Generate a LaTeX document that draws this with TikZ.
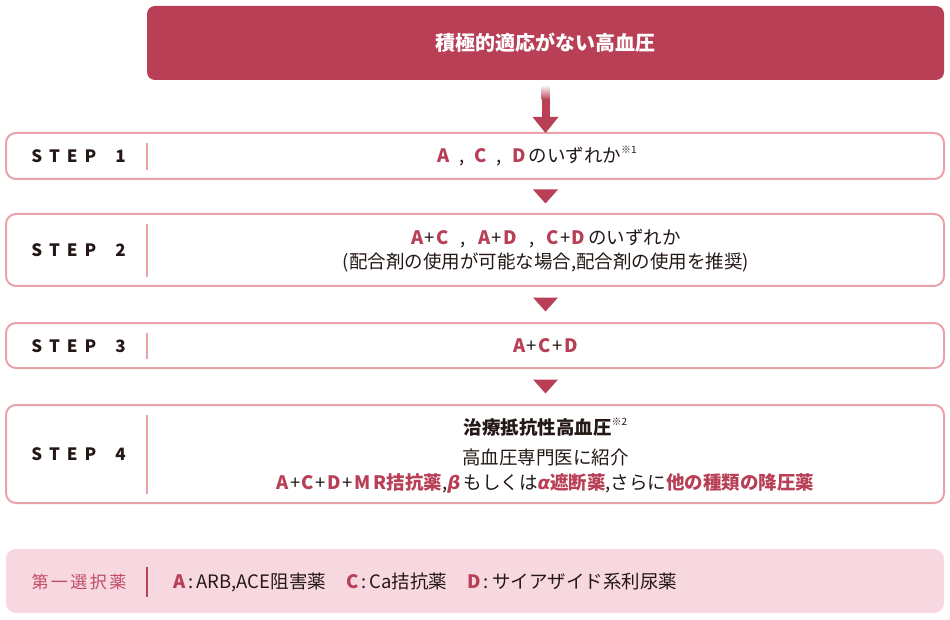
\documentclass[tikz,border=0pt]{standalone}
\usepackage{fontspec}
\setmainfont{Noto Sans CJK JP}
\newfontfamily\grk{DejaVu Sans}
\usetikzlibrary{calc}
\definecolor{dred}{HTML}{B83F56}
\definecolor{bpink}{HTML}{E9A2A9}
\definecolor{lpink}{HTML}{F8D8E0}
\definecolor{legred}{HTML}{C04C66}
\definecolor{tblack}{HTML}{231815}
\newcommand\rd[1]{{\color{dred}\bfseries #1}}
\newcommand\supmark[1]{\raisebox{0.5em}{\fontsize{10}{10}\selectfont #1}}
\newcommand\steplabel[1]{S\hspace{7pt}T\hspace{7pt}E\hspace{7pt}P\hspace{19pt}#1}
\newcommand\pl{\hspace{1.5pt}+\hspace{1.5pt}}
\begin{document}
\begin{tikzpicture}[x=1pt,y=-1pt,
  every node/.style={inner sep=0pt, outer sep=0pt, text=tblack},
  titlebox/.style={rectangle, rounded corners=8pt, fill=dred, text=white, font=\fontsize{20}{23}\selectfont\bfseries},
  stepbox/.style={rectangle, rounded corners=10pt, draw=bpink, line width=2pt, fill=white, minimum width=938pt},
  legbox/.style={rectangle, rounded corners=10pt, fill=lpink, minimum width=938pt},
  steplab/.style={font=\fontsize{17}{20}\selectfont\bfseries},
  body/.style={font=\fontsize{18.5}{24}\selectfont, align=center},
  divider/.style={draw=bpink, line width=1.5pt},
  tri/.style={fill=dred},
]
\useasboundingbox (0,0) rectangle (950,620);

\node[titlebox, minimum width=797pt, minimum height=74pt] (title) at (545.5,43) {積極的適応がない高血圧};

\node[stepbox, minimum height=46pt] (s1) at (475,156) {};
\node[stepbox, minimum height=72pt] (s2) at (475,250) {};
\node[stepbox, minimum height=45pt] (s3) at (475,345.5) {};
\node[stepbox, minimum height=98pt] (s4) at (475,454) {};
\node[legbox, minimum height=64pt] (leg) at (475,581) {};

\foreach \b in {s1,s2,s3,s4}{
  \draw[divider] ([xshift=141pt,yshift=-10pt]\b.north west) -- ([xshift=141pt,yshift=9pt]\b.south west);
}

\node[steplab] (l1) at (78.5,156) {\steplabel{1}};
\node[steplab] (l2) at (78.5,250) {\steplabel{2}};
\node[steplab] (l3) at (78.5,346) {\steplabel{3}};
\node[steplab] (l4) at (78.5,454) {\steplabel{4}};

\node[body] (t1) at (537,156) {\rd{A}\hspace{10pt},\hspace{10pt}\rd{C}\hspace{10pt},\hspace{10pt}\rd{D}\,のいずれか\supmark{※1}};
\node[body] (t2) at (546,251) {\rd{A}\pl\rd{C}\hspace{12pt},\hspace{12pt}\rd{A}\pl\rd{D}\hspace{12pt},\hspace{12pt}\rd{C}\pl\rd{D}\,のいずれか\\(配合剤の使用が可能な場合,配合剤の使用を推奨)};
\node[body] (t3) at (545.5,346) {\rd{A}\pl\rd{C}\pl\rd{D}};
\node[body] (t4) at (545.5,456) {\textbf{治療抵抗性高血圧}\supmark{※2}\\[6pt]高血圧専門医に紹介\\[1pt]\rd{A}\pl\rd{C}\pl\rd{D}\pl\rd{M\hspace{3pt}R拮抗薬},{\color{dred}\grk\bfseries\itshape β}\,もしくは{\color{dred}\grk\bfseries\itshape α}\rd{遮断薬},さらに\rd{他の種類の降圧薬}};

% main arrow
\shade[top color=white, bottom color=dred] ($(title.south)+(-4,5)$) rectangle ($(title.south)+(4,20)$);
\fill[dred] ($(title.south)+(-4,19.5)$) rectangle ($(title.south)+(4,38)$);
\fill[dred] ($(s1.north -| title.south)+(-13,-16)$) -- ($(s1.north -| title.south)+(13,-16)$) -- (s1.north -| title.south) -- cycle;

% small triangles
\foreach \a/\b in {s1/s2,s2/s3,s3/s4}{
  \coordinate (m) at ($(\a.south -| title.south)!0.5!(\b.north -| title.south)$);
  \fill[tri] ($(m)+(-12.5,-7)$) -- ($(m)+(12.5,-7)$) -- ($(m)+(0,7)$) -- cycle;
}

% legend
\node[font=\fontsize{17}{20}\selectfont, text=legred] (legl) at (79,582) {第\hspace{2.5pt}一\hspace{2.5pt}選\hspace{2.5pt}択\hspace{2.5pt}薬};
\draw[draw=dred, line width=1.5pt] ([xshift=141pt,yshift=-18pt]leg.north west) -- ([xshift=141pt,yshift=16pt]leg.south west);
\node[anchor=west, font=\fontsize{18.5}{20}\selectfont] (legt) at (173,582) {\rd{A}\,:\,ARB,ACE阻害薬\hspace{20pt}\rd{C}\,:\,Ca拮抗薬\hspace{20pt}\rd{D}\,:\,サイアザイド系利尿薬};
\end{tikzpicture}
\end{document}
